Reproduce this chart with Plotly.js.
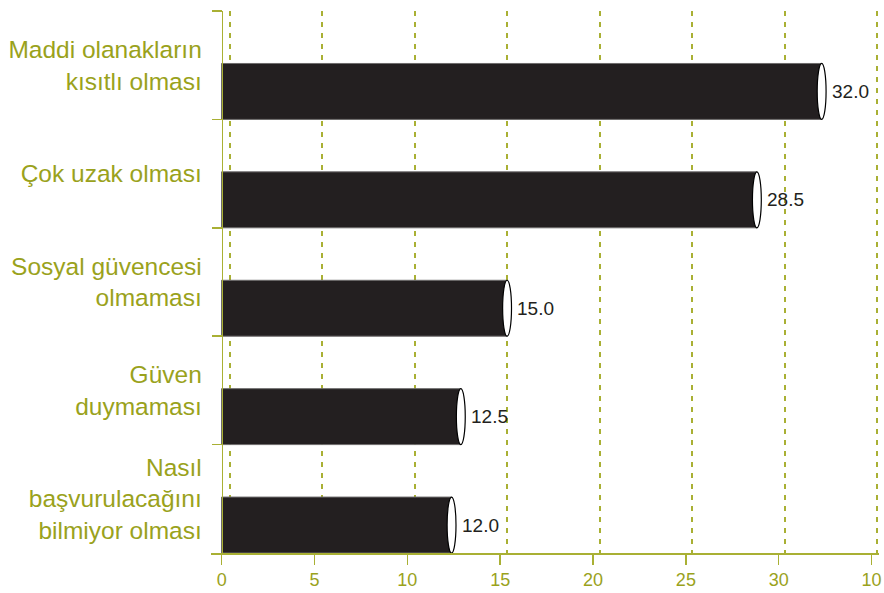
<!DOCTYPE html>
<html>
<head>
<meta charset="utf-8">
<script src="https://cdn.plot.ly/plotly-3.0.1.min.js"></script>
<style>html,body{margin:0;padding:0;background:#fff;}#chart{width:884px;height:593px;}</style>
</head>
<body>
<div id="chart"></div>
<script>
// ---- data ----
var categories = [
  "Maddi olanakların<br>kısıtlı olması",
  "Çok uzak olması",
  "Sosyal güvencesi<br>olmaması",
  "Güven<br>duymaması",
  "Nasıl<br>başvurulacağını<br>bilmiyor olması"
];
var values = [32.0, 28.5, 15.0, 12.5, 12.0];
var valueLabels = ["32.0", "28.5", "15.0", "12.5", "12.0"];
var tickValues = [0, 5, 10, 15, 20, 25, 30, 35];
var tickLabels = ["0", "5", "10", "15", "20", "25", "30", "10"];

// ---- style ----
var OLIVE_TEXT = "#9aa21c";
var OLIVE_LINE = "#a9b034";
var BAR_COLOR = "#231f20";
var FONT = "Liberation Sans, Arial, Helvetica, sans-serif";
var BAR_BASE = -0.43;      // bars start at the drawn vertical axis
var BAR_WIDTH = 0.516;
var BAR_OFFSET = -0.016;
var CAP_HALF = 0.24;       // half width of the elliptical end cap
var TRUE_RANGE = [-1.0, 35.1];
var SHOW_RANGE = [-0.576, 35.4];

// bars drawn on the gridline (true) scale
var bars = {
  type: "bar",
  orientation: "h",
  y: categories,
  x: values.map(function (v) { return v - BAR_BASE; }),
  base: BAR_BASE,
  width: BAR_WIDTH,
  offset: BAR_OFFSET,
  marker: { color: BAR_COLOR, line: { color: "#6d6b6b", width: 1 } },
  hoverinfo: "skip",
  xaxis: "x2",
  yaxis: "y"
};

// holder so the labelled axis gets its own subplot (draws nothing)
var axisHolder = {
  type: "scatter", mode: "none",
  x: [tickValues[0]], y: [categories[0]],
  hoverinfo: "skip", showlegend: false,
  xaxis: "x", yaxis: "y"
};

var shapes = values.map(function (v, i) {
  return {
    type: "circle", xref: "x2", yref: "y", layer: "above",
    x0: v - CAP_HALF, x1: v + CAP_HALF,
    y0: i + BAR_OFFSET, y1: i + BAR_OFFSET + BAR_WIDTH,
    fillcolor: "#ffffff", line: { color: "#000000", width: 1.2 }
  };
});

var annotations = values.map(function (v, i) {
  return {
    xref: "x2", yref: "y", x: v, y: i + BAR_OFFSET + BAR_WIDTH / 2,
    text: valueLabels[i], showarrow: false, xanchor: "left", yanchor: "middle",
    xshift: 8, font: { family: FONT, size: 19, color: "#231f20" }
  };
});

var layout = {
  width: 884, height: 593,
  margin: { l: 211, r: 5, t: 11, b: 40, pad: 0 },
  paper_bgcolor: "#ffffff", plot_bgcolor: "#ffffff",
  showlegend: false,
  bargap: 0,
  xaxis: {
    range: SHOW_RANGE, anchor: "y", side: "bottom",
    tickmode: "array", tickvals: tickValues, ticktext: tickLabels,
    ticks: "outside", ticklen: 10, tickwidth: 1.5, tickcolor: OLIVE_LINE,
    showline: true, linecolor: OLIVE_LINE, linewidth: 1.5,
    showgrid: false, zeroline: false,
    tickfont: { family: FONT, size: 18, color: OLIVE_TEXT },
    fixedrange: true
  },
  xaxis2: {
    overlaying: "x", anchor: "y", side: "bottom",
    range: TRUE_RANGE,
    showgrid: true, gridcolor: OLIVE_LINE, gridwidth: 2, griddash: "5px,6px",
    tickmode: "array", tickvals: tickValues, showticklabels: false, ticks: "",
    showline: false, zeroline: false, fixedrange: true
  },
  yaxis: {
    type: "category",
    categoryorder: "array", categoryarray: categories,
    range: [categories.length - 0.5, -0.5],
    anchor: "free",
    position: (0 - SHOW_RANGE[0]) / (SHOW_RANGE[1] - SHOW_RANGE[0]),
    ticks: "outside", tickson: "boundaries", ticklen: 10, tickwidth: 1.5, tickcolor: OLIVE_LINE,
    showline: true, linecolor: OLIVE_LINE, linewidth: 1.5,
    showgrid: false, zeroline: false,
    ticklabelstandoff: 15,
    tickfont: { family: FONT, size: 24.5, color: OLIVE_TEXT },
    fixedrange: true
  },
  shapes: shapes,
  annotations: annotations
};

Plotly.newPlot("chart", [axisHolder, bars], layout, { displayModeBar: false, staticPlot: true });
</script>
</body>
</html>
